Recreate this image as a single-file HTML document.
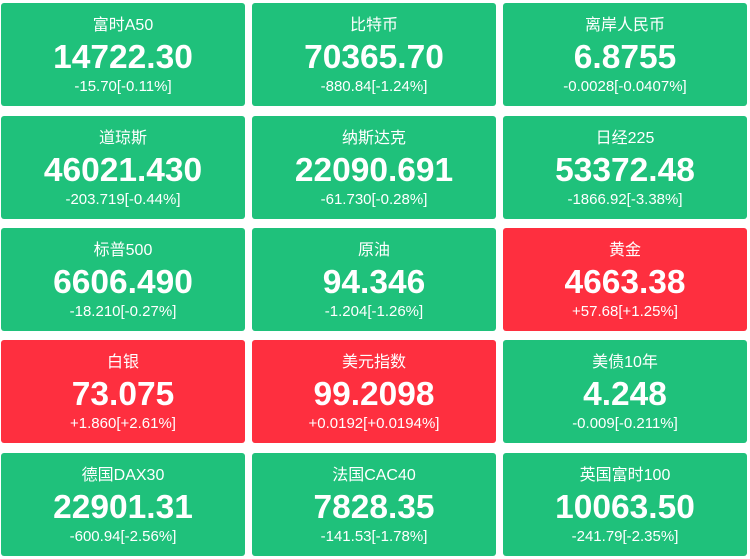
<!DOCTYPE html>
<html><head><meta charset="utf-8"><style>
html,body{margin:0;padding:0;background:#fff;width:750px;height:559px;overflow:hidden}
.c{position:absolute;width:244px;height:103px;border-radius:3px;background:#1fc17b;color:#fff;text-align:center;font-family:"Liberation Sans","Noto Sans CJK SC",sans-serif}
.r{background:#fe2f3f}
.t{position:absolute;left:0;right:0;top:13px;font-size:16px;line-height:20px}
.v{position:absolute;left:0;right:0;top:36px;font-size:33.5px;font-weight:bold;line-height:38px}
.d{position:absolute;left:0;right:0;top:75px;font-size:15px;line-height:18px}
</style></head><body>
<div class="c" style="left:1px;top:3px"><div class="t">富时A50</div><div class="v">14722.30</div><div class="d">-15.70[-0.11%]</div></div>
<div class="c" style="left:252px;top:3px"><div class="t">比特币</div><div class="v">70365.70</div><div class="d">-880.84[-1.24%]</div></div>
<div class="c" style="left:503px;top:3px"><div class="t">离岸人民币</div><div class="v">6.8755</div><div class="d">-0.0028[-0.0407%]</div></div>
<div class="c" style="left:1px;top:116px"><div class="t">道琼斯</div><div class="v">46021.430</div><div class="d">-203.719[-0.44%]</div></div>
<div class="c" style="left:252px;top:116px"><div class="t">纳斯达克</div><div class="v">22090.691</div><div class="d">-61.730[-0.28%]</div></div>
<div class="c" style="left:503px;top:116px"><div class="t">日经225</div><div class="v">53372.48</div><div class="d">-1866.92[-3.38%]</div></div>
<div class="c" style="left:1px;top:228px"><div class="t">标普500</div><div class="v">6606.490</div><div class="d">-18.210[-0.27%]</div></div>
<div class="c" style="left:252px;top:228px"><div class="t">原油</div><div class="v">94.346</div><div class="d">-1.204[-1.26%]</div></div>
<div class="c r" style="left:503px;top:228px"><div class="t">黄金</div><div class="v">4663.38</div><div class="d">+57.68[+1.25%]</div></div>
<div class="c r" style="left:1px;top:340px"><div class="t">白银</div><div class="v">73.075</div><div class="d">+1.860[+2.61%]</div></div>
<div class="c r" style="left:252px;top:340px"><div class="t">美元指数</div><div class="v">99.2098</div><div class="d">+0.0192[+0.0194%]</div></div>
<div class="c" style="left:503px;top:340px"><div class="t">美债10年</div><div class="v">4.248</div><div class="d">-0.009[-0.211%]</div></div>
<div class="c" style="left:1px;top:453px"><div class="t">德国DAX30</div><div class="v">22901.31</div><div class="d">-600.94[-2.56%]</div></div>
<div class="c" style="left:252px;top:453px"><div class="t">法国CAC40</div><div class="v">7828.35</div><div class="d">-141.53[-1.78%]</div></div>
<div class="c" style="left:503px;top:453px"><div class="t">英国富时100</div><div class="v">10063.50</div><div class="d">-241.79[-2.35%]</div></div>
</body></html>
